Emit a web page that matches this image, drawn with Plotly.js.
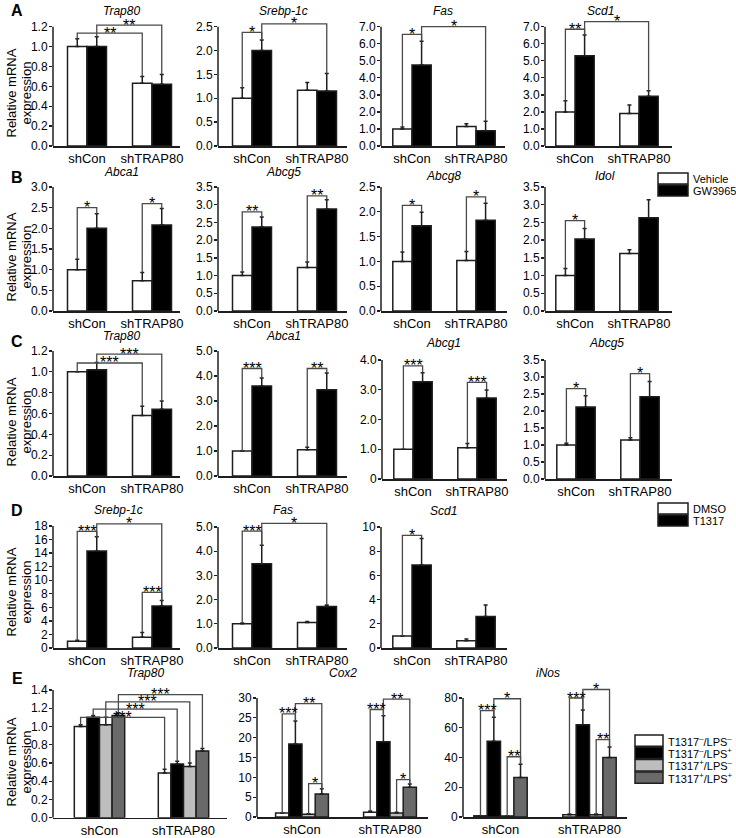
<!DOCTYPE html>
<html><head><meta charset="utf-8">
<script src="https://cdn.plot.ly/plotly-3.0.1.min.js"></script>
<style>html,body{margin:0;padding:0;background:#fff}</style>
</head><body><div id="chart" style="width:736px;height:838px"></div>
<script>
// ---------- DATA ----------
const groups = ['shCon', 'shTRAP80'];
const legendGW = ['Vehicle', 'GW3965'];
const legendT1317 = ['DMSO', 'T1317'];
const legendLPS = ['T1317<sup>–</sup>/LPS<sup>–</sup>', 'T1317<sup>–</sup>/LPS<sup>+</sup>', 'T1317<sup>+</sup>/LPS<sup>–</sup>', 'T1317<sup>+</sup>/LPS<sup>+</sup>'];
const panelLetters = ['A', 'B', 'C', 'D', 'E'];
const yTitleLines = ['Relative mRNA', 'expression'];

// significance: [seriesA, groupA, seriesB, groupB, bracketLevel, label]
// Panel A (Vehicle / GW3965)
const A1_gene = 'Trap80';
const A1_mean = [[1.00, 0.63], [1.00, 0.62]];
const A1_err  = [[0.08, 0.07], [0.10, 0.10]];
const A1_sig  = [[0, 0, 0, 1, 1.135, '**'], [1, 0, 1, 1, 1.215, '**']];
const A1_ticks = [0, 0.2, 0.4, 0.6, 0.8, 1.0, 1.2];
const A1_tickText = ['0.0', '0.2', '0.4', '0.6', '0.8', '1.0', '1.2'];

const A2_gene = 'Srebp-1c';
const A2_mean = [[1.00, 1.17], [2.00, 1.15]];
const A2_err  = [[0.22, 0.16], [0.22, 0.37]];
const A2_sig  = [[0, 0, 1, 0, 2.38, '*'], [1, 0, 1, 1, 2.56, '*']];
const A2_ticks = [0, 0.5, 1.0, 1.5, 2.0, 2.5];
const A2_tickText = ['0.0', '0.5', '1.0', '1.5', '2.0', '2.5'];

const A3_gene = 'Fas';
const A3_mean = [[1.00, 1.15], [4.75, 0.90]];
const A3_err  = [[0.12, 0.15], [1.40, 0.55]];
const A3_sig  = [[0, 0, 1, 0, 6.55, '*'], [1, 0, 1, 1, 7.0, '*']];
const A3_ticks = [0, 1, 2, 3, 4, 5, 6, 7];
const A3_tickText = ['0.0', '1.0', '2.0', '3.0', '4.0', '5.0', '6.0', '7.0'];

const A4_gene = 'Scd1';
const A4_mean = [[2.00, 1.90], [5.30, 2.92]];
const A4_err  = [[0.65, 0.50], [1.22, 0.32]];
const A4_sig  = [[0, 0, 1, 0, 6.85, '**'], [1, 0, 1, 1, 7.3, '*']];
const A4_ticks = [0, 1, 2, 3, 4, 5, 6, 7];
const A4_tickText = ['0.0', '1.0', '2.0', '3.0', '4.0', '5.0', '6.0', '7.0'];

// Panel B (Vehicle / GW3965)
const B1_gene = 'Abca1';
const B1_mean = [[1.00, 0.73], [2.00, 2.08]];
const B1_err  = [[0.25, 0.20], [0.35, 0.40]];
const B1_sig  = [[0, 0, 1, 0, 2.5, '*'], [0, 1, 1, 1, 2.6, '*']];
const B1_ticks = [0, 0.5, 1.0, 1.5, 2.0, 2.5, 3.0];
const B1_tickText = ['0.0', '0.5', '1.0', '1.5', '2.0', '2.5', '3.0'];

const B2_gene = 'Abcg5';
const B2_mean = [[1.00, 1.23], [2.37, 2.88]];
const B2_err  = [[0.10, 0.15], [0.28, 0.26]];
const B2_sig  = [[0, 0, 1, 0, 2.8, '**'], [0, 1, 1, 1, 3.25, '**']];
const B2_ticks = [0, 0.5, 1.0, 1.5, 2.0, 2.5, 3.0, 3.5];
const B2_tickText = ['0.0', '0.5', '1.0', '1.5', '2.0', '2.5', '3.0', '3.5'];

const B3_gene = 'Abcg8';
const B3_mean = [[1.00, 1.02], [1.72, 1.83]];
const B3_err  = [[0.19, 0.18], [0.27, 0.34]];
const B3_sig  = [[0, 0, 1, 0, 2.13, '*'], [0, 1, 1, 1, 2.3, '*']];
const B3_ticks = [0, 0.5, 1.0, 1.5, 2.0, 2.5];
const B3_tickText = ['0.0', '0.5', '1.0', '1.5', '2.0', '2.5'];

const B4_gene = 'Idol';
const B4_mean = [[1.00, 1.62], [2.03, 2.63]];
const B4_err  = [[0.20, 0.11], [0.30, 0.51]];
const B4_sig  = [[0, 0, 1, 0, 2.55, '*']];
const B4_ticks = [0, 0.5, 1.0, 1.5, 2.0, 2.5, 3.0, 3.5];
const B4_tickText = ['0.0', '0.5', '1.0', '1.5', '2.0', '2.5', '3.0', '3.5'];

// Panel C (Vehicle / GW3965)
const C1_gene = 'Trap80';
const C1_mean = [[1.00, 0.58], [1.02, 0.64]];
const C1_err  = [[0.00, 0.09], [0.07, 0.08]];
const C1_sig  = [[0, 0, 0, 1, 1.085, '***'], [1, 0, 1, 1, 1.17, '***']];
const C1_ticks = [0, 0.2, 0.4, 0.6, 0.8, 1.0, 1.2];
const C1_tickText = ['0.0', '0.2', '0.4', '0.6', '0.8', '1.0', '1.2'];

const C2_gene = 'Abca1';
const C2_mean = [[1.00, 1.05], [3.60, 3.45]];
const C2_err  = [[0.00, 0.10], [0.32, 0.67]];
const C2_sig  = [[0, 0, 1, 0, 4.3, '***'], [0, 1, 1, 1, 4.3, '**']];
const C2_ticks = [0, 1, 2, 3, 4, 5];
const C2_tickText = ['0.0', '1.0', '2.0', '3.0', '4.0', '5.0'];

const C3_gene = 'Abcg1';
const C3_mean = [[1.00, 1.05], [3.27, 2.72]];
const C3_err  = [[0.00, 0.14], [0.30, 0.27]];
const C3_sig  = [[0, 0, 1, 0, 3.8, '***'], [0, 1, 1, 1, 3.25, '***']];
const C3_ticks = [0, 1, 2, 3, 4];
const C3_tickText = ['0', '1.0', '2.0', '3.0', '4.0'];

const C4_gene = 'Abcg5';
const C4_mean = [[1.00, 1.15], [2.12, 2.42]];
const C4_err  = [[0.05, 0.06], [0.33, 0.45]];
const C4_sig  = [[0, 0, 1, 0, 2.66, '*'], [0, 1, 1, 1, 3.1, '*']];
const C4_ticks = [0, 0.5, 1.0, 1.5, 2.0, 2.5, 3.0, 3.5];
const C4_tickText = ['0.0', '0.5', '1.0', '1.5', '2.0', '2.5', '3.0', '3.5'];

// Panel D (DMSO / T1317)
const D1_gene = 'Srebp-1c';
const D1_mean = [[1.0, 1.6], [14.3, 6.2]];
const D1_err  = [[0.15, 0.7], [2.1, 0.8]];
const D1_sig  = [[0, 0, 1, 0, 17.2, '***'], [1, 0, 1, 1, 18.3, '*'], [0, 1, 1, 1, 8.2, '***']];
const D1_ticks = [0, 2, 4, 6, 8, 10, 12, 14, 16, 18];
const D1_tickText = ['0', '2', '4', '6', '8', '10', '12', '14', '16', '18'];

const D2_gene = 'Fas';
const D2_mean = [[1.00, 1.05], [3.48, 1.72]];
const D2_err  = [[0.03, 0.05], [0.77, 0.06]];
const D2_sig  = [[0, 0, 1, 0, 4.83, '***'], [1, 0, 1, 1, 5.15, '*']];
const D2_ticks = [0, 1, 2, 3, 4, 5];
const D2_tickText = ['0.0', '1.0', '2.0', '3.0', '4.0', '5.0'];

const D3_gene = 'Scd1';
const D3_mean = [[1.0, 0.6], [6.85, 2.6]];
const D3_err  = [[0.0, 0.15], [2.2, 0.95]];
const D3_sig  = [[0, 0, 1, 0, 9.3, '*']];
const D3_ticks = [0, 2, 4, 6, 8, 10];
const D3_tickText = ['0', '2', '4', '6', '8', '10'];

// Panel E (T1317 / LPS, four series)
const E1_gene = 'Trap80';
const E1_mean = [[1.00, 0.49], [1.10, 0.59], [1.02, 0.56], [1.12, 0.73]];
const E1_err  = [[0.02, 0.04], [0.02, 0.03], [0.08, 0.04], [0.03, 0.03]];
const E1_sig  = [[0, 0, 0, 1, 1.10, '***'], [1, 0, 1, 1, 1.19, '***'], [2, 0, 2, 1, 1.27, '***'], [3, 0, 3, 1, 1.35, '***']];
const E1_ticks = [0, 0.2, 0.4, 0.6, 0.8, 1.0, 1.2, 1.4];
const E1_tickText = ['0.0', '0.2', '0.4', '0.6', '0.8', '1.0', '1.2', '1.4'];

const E2_gene = 'Cox2';
const E2_mean = [[1.0, 1.2], [18.4, 19.0], [0.7, 1.0], [5.8, 7.5]];
const E2_err  = [[0.0, 0.3], [5.8, 6.5], [0.1, 0.2], [1.3, 0.8]];
const E2_sig  = [[0, 0, 1, 0, 26.0, '***'], [1, 0, 3, 0, 28.6, '**'], [2, 0, 3, 0, 8.4, '*'],
                 [0, 1, 1, 1, 27.1, '***'], [1, 1, 3, 1, 29.7, '**'], [2, 1, 3, 1, 9.4, '*']];
const E2_ticks = [0, 5, 10, 15, 20, 25, 30];
const E2_tickText = ['0', '5', '10', '15', '20', '25', '30'];

const E3_gene = 'iNos';
const E3_mean = [[0.8, 1.5], [51.0, 62.0], [0.7, 1.5], [26.5, 40.0]];
const E3_err  = [[0.0, 0.5], [16.0, 10.0], [0.0, 0.5], [9.0, 7.0]];
const E3_sig  = [[0, 0, 1, 0, 71.5, '***'], [1, 0, 3, 0, 79.5, '*'], [2, 0, 3, 0, 40.5, '**'],
                 [0, 1, 1, 1, 80.0, '***'], [1, 1, 3, 1, 85.7, '*'], [2, 1, 3, 1, 52.0, '**']];
const E3_ticks = [0, 20, 40, 60, 80];
const E3_tickText = ['0', '20', '40', '60', '80'];

// ---------- LAYOUT GEOMETRY (pixels) ----------
const W = 736, H = 838;
const px = v => v / W, py = v => 1 - v / H;
const BARGAP = 0.4;
const fills = ['#ffffff', '#000000', '#bdbdbd', '#6a6a6a'];
const ink = '#1e1e1e', bracketInk = '#4a4a4a';
const FONT = '"Liberation Sans", Arial, Helvetica, sans-serif';

const panels = [
  {gene: A1_gene, mean: A1_mean, err: A1_err, sig: A1_sig, ticks: A1_ticks, tt: A1_tickText, x: [53, 180], c: [87, 152], y: [26.7, 146], ty: 11, tx: 121},
  {gene: A2_gene, mean: A2_mean, err: A2_err, sig: A2_sig, ticks: A2_ticks, tt: A2_tickText, x: [218, 347], c: [252, 317], y: [26.7, 146], ty: 11, tx: 283},
  {gene: A3_gene, mean: A3_mean, err: A3_err, sig: A3_sig, ticks: A3_ticks, tt: A3_tickText, x: [381, 505], c: [412, 476], y: [26.7, 146], ty: 11, tx: 443},
  {gene: A4_gene, mean: A4_mean, err: A4_err, sig: A4_sig, ticks: A4_ticks, tt: A4_tickText, x: [545, 672], c: [575, 639], y: [26.7, 146], ty: 11, tx: 600},
  {gene: B1_gene, mean: B1_mean, err: B1_err, sig: B1_sig, ticks: B1_ticks, tt: B1_tickText, x: [53, 180], c: [87, 152], y: [187, 311], ty: 172, tx: 121},
  {gene: B2_gene, mean: B2_mean, err: B2_err, sig: B2_sig, ticks: B2_ticks, tt: B2_tickText, x: [218, 347], c: [252, 317], y: [187, 311], ty: 172, tx: 283},
  {gene: B3_gene, mean: B3_mean, err: B3_err, sig: B3_sig, ticks: B3_ticks, tt: B3_tickText, x: [381, 507], c: [412, 476], y: [187, 311], ty: 176, tx: 443},
  {gene: B4_gene, mean: B4_mean, err: B4_err, sig: B4_sig, ticks: B4_ticks, tt: B4_tickText, x: [545, 672], c: [575, 639], y: [187, 311], ty: 176, tx: 605},
  {gene: C1_gene, mean: C1_mean, err: C1_err, sig: C1_sig, ticks: C1_ticks, tt: C1_tickText, x: [53, 180], c: [87, 152], y: [351, 476], ty: 336, tx: 121},
  {gene: C2_gene, mean: C2_mean, err: C2_err, sig: C2_sig, ticks: C2_ticks, tt: C2_tickText, x: [218, 347], c: [252, 317], y: [351, 476], ty: 336, tx: 283},
  {gene: C3_gene, mean: C3_mean, err: C3_err, sig: C3_sig, ticks: C3_ticks, tt: C3_tickText, x: [382, 507], c: [413, 477], y: [360, 479], ty: 343, tx: 443},
  {gene: C4_gene, mean: C4_mean, err: C4_err, sig: C4_sig, ticks: C4_ticks, tt: C4_tickText, x: [545, 672], c: [576, 640], y: [360, 479], ty: 343, tx: 606},
  {gene: D1_gene, mean: D1_mean, err: D1_err, sig: D1_sig, ticks: D1_ticks, tt: D1_tickText, x: [53, 180], c: [87, 152], y: [526, 648], ty: 510, tx: 118},
  {gene: D2_gene, mean: D2_mean, err: D2_err, sig: D2_sig, ticks: D2_ticks, tt: D2_tickText, x: [218, 347], c: [252, 317], y: [527, 648], ty: 510, tx: 283},
  {gene: D3_gene, mean: D3_mean, err: D3_err, sig: D3_sig, ticks: D3_ticks, tt: D3_tickText, x: [381, 507], c: [412, 476], y: [527, 648], ty: 511, tx: 443},
  {gene: E1_gene, mean: E1_mean, err: E1_err, sig: E1_sig, ticks: E1_ticks, tt: E1_tickText, x: [53, 227], c: [99.5, 183.5], y: [690, 817.7], ty: 673, tx: 145},
  {gene: E2_gene, mean: E2_mean, err: E2_err, sig: E2_sig, ticks: E2_ticks, tt: E2_tickText, x: [257, 428], c: [302, 390], y: [698, 817], ty: 673, tx: 343},
  {gene: E3_gene, mean: E3_mean, err: E3_err, sig: E3_sig, ticks: E3_ticks, tt: E3_tickText, x: [463, 627], c: [500.5, 589.5], y: [698, 817], ty: 673, tx: 548}
];

const letterPos = [[17, 11], [17, 177], [17, 342], [17, 510], [17, 678]];
const yTitleY = [93, 257, 422, 592, 762];
const yTitleX = [10.5, 25.5];
const legends = [
  {labels: legendGW, fills: fills.slice(0, 2), x: [658, 688], y0: 173, h: 12, tx: 691},
  {labels: legendT1317, fills: fills.slice(0, 2), x: [658, 688], y0: 503, h: 12, tx: 691},
  {labels: legendLPS, fills: fills, x: [635, 663], y0: 735, h: 12.3, tx: 666}
];

// ---------- BUILD ----------
const data = [], shapes = [], annotations = [];
const layout = {
  width: W, height: H, margin: {l: 0, r: 0, t: 0, b: 0},
  paper_bgcolor: '#ffffff', plot_bgcolor: 'rgba(0,0,0,0)',
  showlegend: false, barmode: 'group', bargap: BARGAP, bargroupgap: 0,
  font: {family: FONT, color: '#000000', size: 12},
  shapes: shapes, annotations: annotations
};
const EXT = 1.16;

panels.forEach((p, i) => {
  const n = i + 1;
  const xa = n === 1 ? 'x' : 'x' + n, ya = n === 1 ? 'y' : 'y' + n;
  const xk = n === 1 ? 'xaxis' : 'xaxis' + n, yk = n === 1 ? 'yaxis' : 'yaxis' + n;
  const top = p.ticks[p.ticks.length - 1];
  const [pt, pb] = p.y;
  const ppu = (pb - pt) / top;
  const domTop = pb - EXT * top * ppu;
  const unit = p.c[1] - p.c[0];
  layout[xk] = {
    domain: [px(p.x[0]), px(p.x[1])], range: [(p.x[0] - p.c[0]) / unit, (p.x[1] - p.c[0]) / unit],
    anchor: ya, showline: true, linecolor: ink, linewidth: 1.5, ticks: '',
    tickmode: 'array', tickvals: [0, 1], ticktext: groups, tickfont: {size: 13},
    showgrid: false, zeroline: false, fixedrange: true
  };
  layout[yk] = {
    domain: [py(pb), py(domTop)], range: [0, EXT * top], anchor: xa, showline: false,
    ticks: 'outside', ticklen: 3, tickwidth: 1.3, tickcolor: ink, ticklabelstandoff: -1,
    tickmode: 'array', tickvals: p.ticks, ticktext: p.tt, tickfont: {size: 12},
    showgrid: false, zeroline: false, fixedrange: true
  };
  // y axis line stops at the top tick
  shapes.push({type: 'line', xref: xa + ' domain', yref: ya, x0: 0, x1: 0, y0: 0, y1: top,
    line: {color: ink, width: 1.5}});
  const ns = p.mean.length;
  const off = k => (k - (ns - 1) / 2) * (1 - BARGAP) / ns;
  p.mean.forEach((m, k) => {
    data.push({
      type: 'bar', x: [0, 1], y: m, xaxis: xa, yaxis: ya,
      marker: {color: fills[k], line: {color: ink, width: 1.5}},
      error_y: {type: 'data', symmetric: false, array: p.err[k], arrayminus: [0, 0],
        color: ink, thickness: 1.5, width: 2},
      hoverinfo: 'none'
    });
  });
  p.sig.forEach(s => {
    const [s1, g1, s2, g2, lvl, lab] = s;
    const x1 = g1 + off(s1), x2 = g2 + off(s2);
    const b1 = p.mean[s1][g1] + p.err[s1][g1], b2 = p.mean[s2][g2] + p.err[s2][g2];
    shapes.push({type: 'path', xref: xa, yref: ya,
      path: `M ${x1} ${b1} L ${x1} ${lvl} L ${x2} ${lvl} L ${x2} ${b2}`,
      line: {color: bracketInk, width: 1.3}});
    annotations.push({xref: xa, yref: ya, x: (x1 + x2) / 2, y: lvl, text: lab, showarrow: false,
      xanchor: 'center', yanchor: 'middle', yshift: 0, borderpad: 0, font: {size: 16, color: '#000'}});
  });
  annotations.push({xref: 'paper', yref: 'paper', x: px(p.tx), y: py(p.ty),
    text: '<i>' + p.gene + '</i>', showarrow: false, xanchor: 'center', yanchor: 'middle',
    font: {size: 12}});
});

panelLetters.forEach((L, i) => {
  annotations.push({xref: 'paper', yref: 'paper', x: px(letterPos[i][0]), y: py(letterPos[i][1]),
    text: '<b>' + L + '</b>', showarrow: false, xanchor: 'center', yanchor: 'middle', font: {size: 16}});
  yTitleLines.forEach((t, j) => {
    annotations.push({xref: 'paper', yref: 'paper', x: px(yTitleX[j]), y: py(yTitleY[i]),
      text: t, textangle: -90, showarrow: false, xanchor: 'center', yanchor: 'middle', font: {size: 13}});
  });
});

legends.forEach(lg => {
  lg.labels.forEach((lab, k) => {
    const yA = lg.y0 + k * lg.h, yB = yA + lg.h - 1;
    shapes.push({type: 'rect', xref: 'paper', yref: 'paper', x0: px(lg.x[0]), x1: px(lg.x[1]),
      y0: py(yB), y1: py(yA), fillcolor: lg.fills[k], line: {color: ink, width: 1.5}});
    annotations.push({xref: 'paper', yref: 'paper', x: px(lg.tx), y: py((yA + yB) / 2), text: lab,
      showarrow: false, xanchor: 'left', yanchor: 'middle', font: {size: 11}});
  });
});

Plotly.newPlot('chart', data, layout, {staticPlot: true, displayModeBar: false});
</script>
</body></html>
